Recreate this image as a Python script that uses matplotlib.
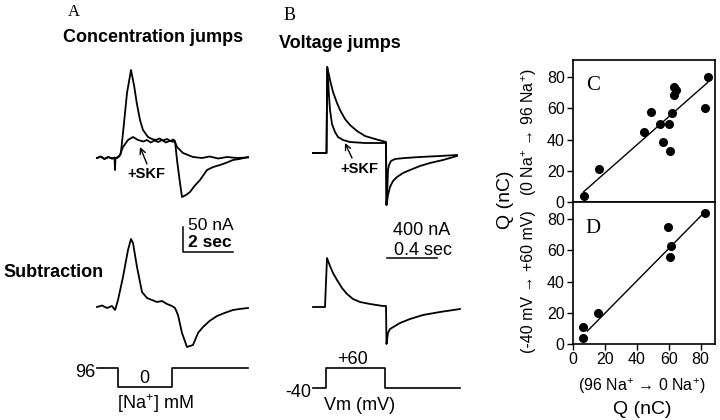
import numpy as np
import matplotlib
matplotlib.use('Agg')
import matplotlib.pyplot as plt

plt.rcParams['font.family'] = ['Liberation Sans', 'DejaVu Sans']
plt.rcParams['mathtext.fontset'] = 'custom'
plt.rcParams['mathtext.rm'] = 'Liberation Sans'
plt.rcParams['mathtext.bf'] = 'Liberation Sans:bold'

# --- A: concentration jumps (time in s, current in nA) ---
a_t_ctrl = [0, 0.15, 0.3, 0.45, 0.6, 0.7, 0.72, 0.74, 0.85, 0.95, 1.04, 1.2, 1.36, 1.49, 1.59,
            1.72, 1.84, 2.04, 2.2, 2.35, 2.5, 2.64, 2.8, 2.95, 3.05, 3.12, 3.2, 3.32, 3.4,
            3.56, 3.72, 3.9, 4.12, 4.4, 4.65, 4.92, 5.2, 5.44, 5.7, 6.04]
a_i_ctrl = [0, 3, -2, 2, -1, 1, -24, 0, 2, 8, 50, 130, 176, 143, 110,
            76, 56, 42, 38, 36, 39, 35, 38, 34, 37, 34, -4, -50, -78,
            -74, -68, -56, -44, -24, -18, -14, -9, -4, -2, 2]
a_t_skf = [0, 0.15, 0.3, 0.45, 0.6, 0.8, 0.9, 1.04, 1.24, 1.44, 1.64, 1.85, 2.0, 2.15, 2.3,
           2.45, 2.6, 2.75, 2.9, 3.12, 3.2, 3.44, 3.84, 4.2, 4.5, 4.85, 5.2, 5.6, 6.04]
a_i_skf = [0, 3, -2, 2, -1, 0, 4, 22, 36, 42, 36, 33, 36, 31, 35,
           32, 36, 31, 34, 32, 22, 10, 2, 0, 3, -1, 2, 0, 1]
a_t_sub = [0, 0.2, 0.4, 0.6, 0.72, 0.76, 0.84, 1.04, 1.24, 1.36, 1.44, 1.6, 1.8, 2.0, 2.2,
           2.4, 2.6, 2.8, 3.0, 3.12, 3.24, 3.4, 3.6, 3.84, 4.04, 4.24, 4.5, 4.8, 5.1, 5.44,
           5.7, 6.04]
a_i_sub = [0, 3, -2, 2, -6, 0, 14, 60, 114, 136, 128, 80, 30, 18, 14,
           10, 12, 6, 2, -2, -16, -52, -80, -76, -52, -40, -28, -18, -12, -6,
           -4, -2]
conc_t = [0, 0.84, 0.84, 3.0, 3.0, 6.04]
conc_mm = [96, 96, 0, 0, 96, 96]

# --- B: voltage jumps (time in s, current in nA) ---
b_t_ctrl = [0, 0.108, 0.114, 0.136, 0.16, 0.192, 0.216, 0.256, 0.296, 0.352, 0.416, 0.496,
            0.584, 0.588, 0.6, 0.616, 0.64, 0.672, 0.72, 0.776, 0.856, 0.936, 1.04, 1.152]
b_i_ctrl = [0, 0, 1376, 1168, 976, 800, 688, 544, 448, 352, 272, 224,
            176, -832, -672, -544, -448, -384, -320, -272, -208, -160, -112, -48]
b_t_skf = [0, 0.108, 0.114, 0.128, 0.136, 0.152, 0.176, 0.2, 0.24, 0.296, 0.416, 0.584,
           0.588, 0.596, 0.6, 0.608, 0.624, 0.656, 0.736, 0.856, 1.016, 1.152]
b_i_skf = [0, 0, 1376, 912, 688, 464, 336, 256, 208, 176, 160, 160,
           -832, -512, -272, -192, -128, -96, -80, -64, -48, -32]
b_t_sub = [0, 0.096, 0.112, 0.136, 0.16, 0.192, 0.232, 0.272, 0.32, 0.376, 0.456, 0.56,
           0.584, 0.588, 0.6, 0.616, 0.656, 0.696, 0.776, 0.88, 1.016, 1.176]
b_i_sub = [0, 0, 784, 656, 544, 432, 304, 208, 128, 80, 48, 16,
           16, -592, -416, -352, -304, -256, -192, -128, -80, -32]
vm_t = [0, 0.104, 0.104, 0.576, 0.576, 1.176]
vm_mv = [-40, -40, 60, 60, -40, -40]

# --- C and D: charge movement (nC) ---
c_x = [6.7, 16.5, 44.6, 49.2, 54.4, 56.3, 60, 61, 61.9, 63.5, 64.4, 63.5, 82.7, 84.4]
c_y = [3.9, 21, 44.7, 57.8, 50.3, 38.5, 50.3, 33, 56.8, 74, 72, 68.8, 60.4, 80.4]
c_fit_x = [6.7, 84.4]
c_fit_y = [6.6, 76.6]
d_x = [6.5, 6.5, 15.8, 59.8, 60.8, 61.5, 82.5]
d_y = [3.8, 10.6, 19.6, 75, 56, 63, 84]
d_fit_x = [9.0, 83.0]
d_fit_y = [8.3, 85.0]

W, H = 720, 420
fig = plt.figure(figsize=(7.2, 4.2), dpi=100)

ov = fig.add_axes([0, 0, 1, 1])
ov.set_xlim(0, W)
ov.set_ylim(H, 0)
ov.axis('off')


def box(x0, y0, x1, y1):
    return fig.add_axes([x0 / W, 1 - y1 / H, (x1 - x0) / W, (y1 - y0) / H])


def trace_ax(x0, y0, x1, y1, ox, oy, sx, sy):
    ax = box(x0, y0, x1, y1)
    ax.set_xlim((x0 - ox) / sx, (x1 - ox) / sx)
    ax.set_ylim((oy - y1) / sy, (oy - y0) / sy)
    ax.axis('off')
    ax.patch.set_alpha(0)
    return ax


lw = 1.3
# A traces
axA1 = trace_ax(90, 55, 255, 205, 97, 158, 25, 0.5)
axA1.plot(a_t_ctrl, a_i_ctrl, color='black', lw=lw)
axA1.plot(a_t_skf, a_i_skf, color='black', lw=lw)
axA2 = trace_ax(90, 205, 255, 360, 97, 307, 25, 0.5)
axA2.plot(a_t_sub, a_i_sub, color='black', lw=lw)
axA2.plot([3.44, 3.44, 5.44], [160, 110, 110], color='black', lw=1.1)
axA3 = trace_ax(90, 355, 255, 395, 97, 387, 25, 19 / 96)
axA3.plot(conc_t, conc_mm, color='black', lw=1.2)

# B traces
axB1 = trace_ax(305, 55, 470, 215, 313, 153, 125, 1 / 16)
axB1.plot(b_t_ctrl, b_i_ctrl, color='black', lw=lw)
axB1.plot(b_t_skf, b_i_skf, color='black', lw=lw)
axB2 = trace_ax(305, 215, 470, 355, 313, 307, 125, 1 / 16)
axB2.plot(b_t_sub, b_i_sub, color='black', lw=lw)
axB2.plot([0.592, 0.992], [784, 784], color='black', lw=1.1)
axB3 = trace_ax(305, 355, 470, 395, 313, 380, 125, 0.2)
axB3.plot(vm_t, vm_mv, color='black', lw=1.2)

# text on the trace panels
serif = 'Liberation Serif'
ov.text(74, 16, 'A', family=serif, fontsize=12, ha='center', va='baseline')
ov.text(290, 20, 'B', family=serif, fontsize=13, ha='center', va='baseline')
ov.text(153, 42, 'Concentration jumps', fontsize=13, fontweight='bold', ha='center', va='baseline')
ov.text(279, 48, 'Voltage jumps', fontsize=13, fontweight='bold', ha='left', va='baseline')
ov.text(3, 277, 'Subtraction', fontsize=13, fontweight='bold', ha='left', va='baseline')
ov.text(188, 230, '50 nA', fontsize=12.5, ha='left', va='baseline')
ov.text(188, 247, '2 sec', fontsize=12.5, fontweight='bold', ha='left', va='baseline')
ov.text(422, 235, '400 nA', fontsize=13, ha='center', va='baseline')
ov.text(423, 255, '0.4 sec', fontsize=13, ha='center', va='baseline')
ov.text(95, 377, '96', fontsize=13, ha='right', va='baseline')
ov.text(144, 383, '0', fontsize=13, ha='center', va='baseline')
ov.text(155, 409, '[Na$^{+}$] mM', fontsize=13, ha='center', va='baseline')
ov.text(311, 397, '-40', fontsize=13, ha='right', va='baseline')
ov.text(353, 364, '+60', fontsize=13, ha='center', va='baseline')
ov.text(360, 410, 'Vm (mV)', fontsize=13, ha='center', va='baseline')

arrow = dict(arrowstyle='->', color='black', lw=1.0, shrinkA=0, shrinkB=0)
ov.annotate('', xy=(140, 147), xytext=(147, 164), arrowprops=arrow)
ov.text(146, 178, '+SKF', fontsize=10.5, fontweight='bold', ha='center', va='baseline')
ov.annotate('', xy=(345, 143), xytext=(352, 158), arrowprops=arrow)
ov.text(359, 173, '+SKF', fontsize=10.5, fontweight='bold', ha='center', va='baseline')

# C and D scatter panels
axC = box(573, 60, 715, 202)
axD = box(573, 202, 715, 344)
for ax in (axC, axD):
    ax.set_xlim(0, 89)
    ax.set_ylim(0, 91)
    ax.set_yticks([0, 20, 40, 60, 80])
    ax.set_xticks([0, 20, 40, 60, 80])
    ax.tick_params(direction='out', length=4, width=1, labelsize=11.5, pad=2)
    for s in ax.spines.values():
        s.set_linewidth(1.2)
axC.tick_params(axis='x', length=0, labelbottom=False)

axC.plot(c_x, c_y, 'o', color='black', markersize=5.5, clip_on=False)
axC.plot(c_fit_x, c_fit_y, color='black', lw=1)
axD.plot(d_x, d_y, 'o', color='black', markersize=5.5, clip_on=False)
axD.plot(d_fit_x, d_fit_y, color='black', lw=1)
axC.text(0.14, 0.82, 'C', transform=axC.transAxes, family=serif, fontsize=15, ha='center', va='center')
axD.text(0.14, 0.81, 'D', transform=axD.transAxes, family=serif, fontsize=15, ha='center', va='center')

arr = '\u2192'
ov.text(505, 200, 'Q (nC)', fontsize=14, rotation=90, ha='center', va='center')
ov.text(529, 132, '(0 Na$^{+}$ ' + arr + ' 96 Na$^{+}$)', fontsize=11.5, rotation=90, ha='center', va='center')
ov.text(529, 282, '(-40 mV ' + arr + ' +60 mV)', fontsize=11.5, rotation=90, ha='center', va='center')
ov.text(642, 386, '(96 Na$^{+}$ ' + arr + ' 0 Na$^{+}$)', fontsize=11.5, ha='center', va='center')
ov.text(642, 409, 'Q (nC)', fontsize=14, ha='center', va='center')

fig.savefig('out.png', dpi=100)
